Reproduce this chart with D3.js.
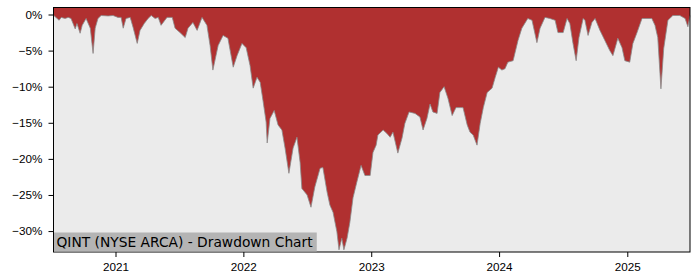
<!DOCTYPE html>
<html>
<head>
<meta charset="utf-8">
<script src="https://cdn.jsdelivr.net/npm/d3@7"></script>
<style>
  body { margin: 0; background: #ffffff; }
  svg { display: block; font-family: "DejaVu Sans", sans-serif; }
</style>
</head>
<body>
<div id="chart"></div>
<script>
// drawdown dates and values (%)
let dates = [
  '2020-07-08','2020-07-15','2020-07-24','2020-07-30','2020-08-10','2020-08-19','2020-08-27','2020-09-08',
  '2020-09-13','2020-09-22','2020-09-28','2020-10-09','2020-10-21','2020-10-29','2020-11-04','2020-11-12',
  '2020-11-21','2020-12-11','2020-12-25','2021-01-08','2021-01-17','2021-01-23','2021-01-31','2021-02-12',
  '2021-02-20','2021-03-04','2021-03-12','2021-03-24','2021-04-04','2021-04-13','2021-04-24','2021-05-03',
  '2021-05-11','2021-05-28','2021-06-12','2021-06-20','2021-07-04','2021-07-19','2021-07-27','2021-08-10',
  '2021-08-22','2021-09-05','2021-09-19','2021-09-28','2021-10-06','2021-10-21','2021-11-04','2021-11-18',
  '2021-12-03','2021-12-14','2021-12-28','2022-01-09','2022-01-20','2022-01-29','2022-02-09','2022-02-18',
  '2022-02-26','2022-03-07','2022-03-10','2022-03-18','2022-03-30','2022-04-10','2022-04-21','2022-04-30',
  '2022-05-11','2022-05-23','2022-06-03','2022-06-12','2022-06-17','2022-07-02','2022-07-13','2022-07-24',
  '2022-08-08','2022-08-16','2022-08-28','2022-09-05','2022-09-14','2022-09-25','2022-10-01','2022-10-09',
  '2022-10-15','2022-10-24','2022-11-01','2022-11-10','2022-11-21','2022-12-03','2022-12-14','2022-12-29',
  '2023-01-06','2023-01-15','2023-01-20','2023-02-04','2023-02-15','2023-02-24','2023-03-04','2023-03-18',
  '2023-03-30','2023-04-07','2023-04-19','2023-05-06','2023-05-20','2023-05-29','2023-06-09','2023-06-18',
  '2023-06-26','2023-07-08','2023-07-16','2023-07-28','2023-08-08','2023-08-20','2023-08-31','2023-09-12',
  '2023-09-20','2023-10-02','2023-10-10','2023-10-19','2023-10-30','2023-11-08','2023-11-17','2023-11-28',
  '2023-12-12','2023-12-21','2023-12-30','2024-01-09','2024-01-18','2024-01-26','2024-02-10','2024-02-24',
  '2024-03-06','2024-03-23','2024-04-04','2024-04-18','2024-04-27','2024-05-11','2024-05-25','2024-06-09',
  '2024-06-17','2024-07-02','2024-07-13','2024-07-21','2024-07-30','2024-08-08','2024-08-16','2024-08-28',
  '2024-09-02','2024-09-11','2024-09-22','2024-10-01','2024-10-15','2024-10-29','2024-11-12','2024-11-21',
  '2024-12-05','2024-12-17','2024-12-25','2025-01-08','2025-01-17','2025-01-28','2025-02-12','2025-02-26',
  '2025-03-12','2025-03-21','2025-03-29','2025-04-07','2025-04-15','2025-04-27','2025-05-11','2025-05-31',
  '2025-06-15','2025-06-23','2025-06-29'
];
let drawdown = [
  -0.1,-0.4,-0.8,-0.4,-0.55,-0.4,-0.55,-2.0,
  -1.25,-2.6,-1.5,-0.55,-1.9,-5.4,-1.9,-0.55,
  -0.14,-0.2,-0.14,-0.4,-0.4,-1.9,-0.55,-0.4,
  -1.75,-4.0,-2.2,-1.25,-0.55,-0.14,-0.55,-0.4,
  -1.5,-0.4,-0.4,-1.9,-2.5,-3.2,-1.9,-1.1,
  -2.2,-0.4,-1.5,-4.3,-7.7,-4.3,-2.9,-3.3,
  -7.3,-5.7,-4.0,-4.6,-7.05,-10.2,-8.7,-9.4,
  -11.9,-14.9,-17.8,-14.4,-13.3,-15.3,-16.0,-18.5,
  -22.0,-18.5,-17.0,-20.5,-24.1,-25.0,-26.7,-23.9,
  -21.3,-21.2,-24.6,-26.4,-27.4,-30.1,-32.6,-31.0,
  -32.6,-31.0,-28.8,-25.4,-23.2,-20.9,-22.3,-22.3,
  -19.1,-18.1,-16.7,-16.0,-16.5,-17.0,-16.3,-19.2,
  -17.1,-15.1,-13.5,-13.7,-14.2,-16.0,-14.4,-12.4,
  -13.5,-13.7,-10.8,-10.0,-11.6,-14.0,-12.9,-12.9,
  -12.9,-15.3,-16.3,-16.7,-18.1,-15.1,-12.9,-10.8,
  -10.2,-8.7,-7.3,-7.7,-7.5,-6.6,-6.4,-3.6,
  -1.9,-0.55,-0.8,-3.9,-1.9,-0.4,-0.55,-0.8,
  -2.5,-2.5,-0.55,-1.25,-4.0,-6.4,-3.2,-0.55,
  -0.8,-2.9,-1.1,-0.55,-2.2,-3.6,-5.0,-5.7,
  -3.3,-4.6,-6.4,-6.6,-4.0,-2.6,-0.55,-0.55,
  -0.55,-1.5,-3.2,-10.3,-4.7,-0.8,-0.14,-0.14,
  -0.55,-1.7,-0.14
];
let yTicks = [0, -5, -10, -15, -20, -25, -30];
let xTickYears = ['2021', '2022', '2023', '2024', '2025'];
let chartTitle = 'QINT (NYSE ARCA) - Drawdown Chart';

let width = 700;
let height = 280;
let margin = { left: 53.5, right: 10, top: 7.5, bottom: 28 };

let parseDate = d3.timeParse('%Y-%m-%d');
let data = dates.map((d, i) => ({ date: parseDate(d), value: drawdown[i] }));

let svg = d3.select('#chart')
  .append('svg')
  .attr('width', width)
  .attr('height', height);

let x = d3.scaleTime()
  .domain([parseDate('2020-07-08'), parseDate('2025-06-29')])
  .range([margin.left, width - margin.right]);

let y = d3.scaleLinear()
  .domain([-32.9, 0.97])
  .range([height - margin.bottom, margin.top]);

// plot background
svg.append('rect')
  .attr('x', margin.left)
  .attr('y', margin.top)
  .attr('width', width - margin.left - margin.right)
  .attr('height', height - margin.top - margin.bottom)
  .attr('fill', '#ebebeb');

// red fill from the top of the axes down to the drawdown
let area = d3.area()
  .x(d => x(d.date))
  .y0(y(0.97))
  .y1(d => y(d.value));

svg.append('path')
  .datum(data)
  .attr('d', area)
  .attr('fill', '#b03030');

let line = d3.line()
  .x(d => x(d.date))
  .y(d => y(d.value));

svg.append('path')
  .datum(data)
  .attr('d', line)
  .attr('fill', 'none')
  .attr('stroke', '#8a8a8a')
  .attr('stroke-width', 0.8);

// axes
let yAxis = d3.axisLeft(y)
  .tickValues(yTicks)
  .tickSize(5)
  .tickPadding(6)
  .tickFormat(d => (d < 0 ? '\u2212' + Math.abs(d) : d) + '%');

let xAxis = d3.axisBottom(x)
  .tickValues(xTickYears.map(s => parseDate(s + '-01-01')))
  .tickSize(5)
  .tickPadding(6)
  .tickFormat(d3.timeFormat('%Y'));

svg.append('g')
  .attr('transform', 'translate(' + margin.left + ',0)')
  .call(yAxis)
  .call(g => g.select('.domain').remove())
  .selectAll('text')
  .attr('font-size', '11.7px')
  .attr('fill', '#000');

svg.append('g')
  .attr('transform', 'translate(0,' + (height - margin.bottom) + ')')
  .call(xAxis)
  .call(g => g.select('.domain').remove())
  .selectAll('text')
  .attr('font-size', '11.7px')
  .attr('fill', '#000');

// frame
svg.append('rect')
  .attr('x', margin.left)
  .attr('y', margin.top)
  .attr('width', width - margin.left - margin.right)
  .attr('height', height - margin.top - margin.bottom)
  .attr('fill', 'none')
  .attr('stroke', '#000')
  .attr('stroke-width', 1);

// title label in the lower left corner
let label = svg.append('g');
let labelText = label.append('text')
  .attr('x', margin.left + 3)
  .attr('y', height - margin.bottom - 5)
  .attr('font-size', '13.8px')
  .attr('fill', '#000')
  .text(chartTitle);
let bb = labelText.node().getBBox();
label.insert('rect', 'text')
  .attr('x', margin.left + 0.5)
  .attr('y', height - margin.bottom - 19.5)
  .attr('width', bb.width + 6)
  .attr('height', 19)
  .attr('fill', '#b4b4b4');
</script>
</body>
</html>
